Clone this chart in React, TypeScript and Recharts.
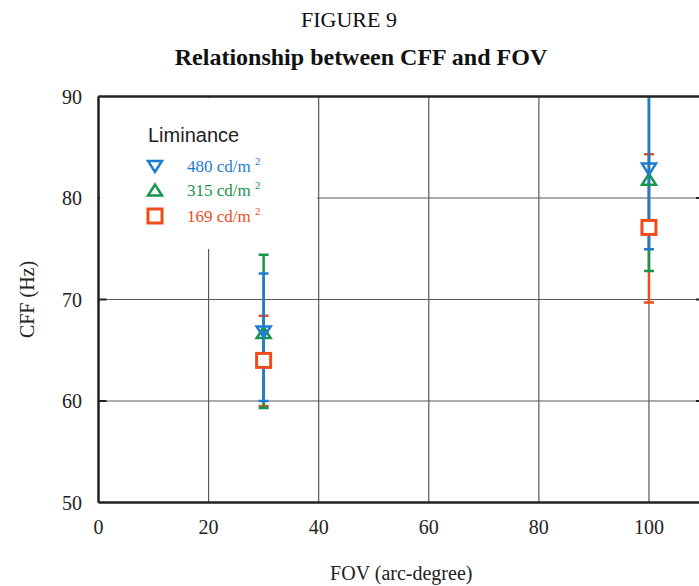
import { ScatterChart, Scatter, XAxis, YAxis, CartesianGrid, ErrorBar, Legend, Label } from "recharts";

const fov = [30, 100];
const seriesNames = ["480 cd/m", "315 cd/m", "169 cd/m"];
const seriesColors = ["#1f7bd1", "#16954c", "#ef4c1c"];

const cff480 = [66.85, 82.9];
const cff480Low = [6.85, 7.95];
const cff480High = [5.7, 8.0];

const cff315 = [66.7, 81.8];
const cff315Low = [7.4, 9.0];
const cff315High = [7.7, 9.0];

const cff169 = [64.0, 77.1];
const cff169Low = [4.5, 7.4];
const cff169High = [4.4, 7.2];

const xTicks = [0, 20, 40, 60, 80, 100];
const xMajorInner = [20, 40, 60, 80, 100];
const xMinorInner = [10, 30, 50, 70, 90];
const yTicks = [50, 60, 70, 80, 90];
const yInner = [60, 70, 80];

const rows = (ys: number[], lo: number[], hi: number[]) =>
  fov.map((x, i) => ({ fov: x, cff: ys[i], err: [lo[i], hi[i]] }));

const d480 = rows(cff480, cff480Low, cff480High);
const d315 = rows(cff315, cff315Low, cff315High);
const d169 = rows(cff169, cff169Low, cff169High);

const serif = '"Liberation Serif", "Times New Roman", serif';
const axisStroke = { stroke: "#222", strokeWidth: 2.5 };

// plot area of the chart below, used to clip error bars that run past 90 Hz
const plot = { left: 98.5, top: 96.5, right: 704, bottom: 502.5 };

function DownTri({ cx, cy, color }: any) {
  return (
    <path d={`M${cx - 7},${cy - 5}L${cx + 7},${cy - 5}L${cx},${cy + 6}Z`} fill="none" stroke={color} strokeWidth={2.5} />
  );
}
function UpTri({ cx, cy, color }: any) {
  return (
    <path d={`M${cx - 7},${cy + 5}L${cx + 7},${cy + 5}L${cx},${cy - 6}Z`} fill="none" stroke={color} strokeWidth={2.5} />
  );
}
function Sq({ cx, cy, color }: any) {
  return <rect x={cx - 7} y={cy - 7} width={14} height={14} fill="#fff" stroke={color} strokeWidth={3} />;
}
const markers = [DownTri, UpTri, Sq];

const noTick = () => <g />;

function LegendBox() {
  const rowY = [68, 92.5, 118];
  return (
    <div style={{ position: "relative", width: 217, height: 151, background: "#fff" }}>
      <div
        style={{
          position: "absolute",
          left: 48,
          top: 27,
          font: '20px/20px "Liberation Sans", Arial, sans-serif',
          color: "#222",
          whiteSpace: "nowrap",
        }}
      >
        Liminance
      </div>
      <svg width={217} height={151} style={{ position: "absolute", left: 0, top: 0 }}>
        {markers.map((M, i) => (
          <M key={i} cx={55} cy={rowY[i]} color={seriesColors[i]} />
        ))}
      </svg>
      {seriesNames.map((name, i) => (
        <div
          key={name}
          style={{
            position: "absolute",
            left: 87,
            top: rowY[i] - 8.2,
            font: `17px/17px ${serif}`,
            color: seriesColors[i],
            whiteSpace: "nowrap",
          }}
        >
          {name} <span style={{ fontSize: 11, position: "relative", top: -7 }}>2</span>
        </div>
      ))}
    </div>
  );
}

export default function App() {
  return (
    <div style={{ position: "absolute", left: 0, top: 0, width: 699, height: 586, overflow: "hidden", background: "#fff" }}>
      <style>{".recharts-errorBars { clip-path: url(#plotClip); }"}</style>
      <svg width={699} height={80} style={{ position: "absolute", left: 0, top: 0 }}>
        <defs>
          <clipPath id="plotClip" clipPathUnits="userSpaceOnUse">
            <rect x={plot.left} y={plot.top} width={plot.right - plot.left} height={plot.bottom - plot.top} />
          </clipPath>
        </defs>
        <text x={349} y={27} textAnchor="middle" fontFamily={serif} fontSize={22} fill="#111">
          FIGURE 9
        </text>
        <text x={361} y={65} textAnchor="middle" fontFamily={serif} fontSize={24} fontWeight="bold" fill="#111">
          Relationship between CFF and FOV
        </text>
      </svg>
      <ScatterChart width={720} height={586} margin={{ top: plot.top, right: 720 - plot.right, bottom: 0, left: 0 }}>
        <CartesianGrid stroke="#5a5a5a" strokeWidth={1.2} />
        <XAxis
          dataKey="fov"
          type="number"
          domain={[0, 110]}
          allowDataOverflow
          ticks={xTicks}
          height={586 - plot.bottom}
          tickLine={false}
          tickSize={0}
          tickMargin={17}
          axisLine={axisStroke}
          tick={{ fontFamily: serif, fontSize: 20, fill: "#222" }}
        >
          <Label value="FOV (arc-degree)" position="insideBottom" offset={6} style={{ fontFamily: serif, fontSize: 20, fill: "#222" }} />
        </XAxis>
        <XAxis xAxisId="bMaj" type="number" domain={[0, 110]} allowDataOverflow ticks={xMajorInner} mirror axisLine={false} tickSize={8} tickLine={{ stroke: "#222", strokeWidth: 2 }} tick={noTick} />
        <XAxis xAxisId="bMin" type="number" domain={[0, 110]} allowDataOverflow ticks={xMinorInner} mirror axisLine={false} tickSize={5} tickLine={{ stroke: "#333", strokeWidth: 1 }} tick={noTick} />
        <XAxis xAxisId="tMaj" orientation="top" type="number" domain={[0, 110]} allowDataOverflow ticks={xMajorInner} mirror axisLine={axisStroke} tickSize={8} tickLine={{ stroke: "#222", strokeWidth: 2 }} tick={noTick} />
        <XAxis xAxisId="tMin" orientation="top" type="number" domain={[0, 110]} allowDataOverflow ticks={xMinorInner} mirror axisLine={false} tickSize={5} tickLine={{ stroke: "#333", strokeWidth: 1 }} tick={noTick} />
        <YAxis
          dataKey="cff"
          type="number"
          domain={[50, 90]}
          allowDataOverflow
          ticks={yTicks}
          width={plot.left}
          tickLine={false}
          tickSize={0}
          tickMargin={16.5}
          axisLine={axisStroke}
          tick={{ fontFamily: serif, fontSize: 20, fill: "#222" }}
        >
          <Label value="CFF (Hz)" angle={-90} position="insideLeft" offset={27} style={{ fontFamily: serif, fontSize: 20, fill: "#222", textAnchor: "middle" }} />
        </YAxis>
        <YAxis yAxisId="lMaj" type="number" domain={[50, 90]} allowDataOverflow ticks={yInner} mirror axisLine={false} tickSize={8} tickLine={{ stroke: "#222", strokeWidth: 2 }} tick={noTick} />
        <YAxis yAxisId="rMaj" orientation="right" type="number" domain={[50, 90]} allowDataOverflow ticks={yInner} mirror axisLine={axisStroke} tickSize={8} tickLine={{ stroke: "#222", strokeWidth: 2 }} tick={noTick} />

        <Scatter data={d169} isAnimationActive={false} shape={noTick}>
          <ErrorBar dataKey="err" direction="y" width={5} stroke={seriesColors[2]} strokeWidth={2.5} isAnimationActive={false} />
        </Scatter>
        <Scatter data={d315} isAnimationActive={false} shape={noTick}>
          <ErrorBar dataKey="err" direction="y" width={5} stroke={seriesColors[1]} strokeWidth={2.5} isAnimationActive={false} />
        </Scatter>
        <Scatter data={d480} isAnimationActive={false} shape={noTick}>
          <ErrorBar dataKey="err" direction="y" width={5} stroke={seriesColors[0]} strokeWidth={2.5} isAnimationActive={false} />
        </Scatter>

        <Scatter data={d315} isAnimationActive={false} shape={(p: any) => <UpTri cx={p.cx} cy={p.cy} color={seriesColors[1]} />} />
        <Scatter data={d480} isAnimationActive={false} shape={(p: any) => <DownTri cx={p.cx} cy={p.cy} color={seriesColors[0]} />} />
        <Scatter data={d169} isAnimationActive={false} shape={(p: any) => <Sq cx={p.cx} cy={p.cy} color={seriesColors[2]} />} />

        <Legend
          layout="vertical"
          align="center"
          verticalAlign="middle"
          wrapperStyle={{ left: 100, top: 98, width: 217, height: 151 }}
          content={() => <LegendBox />}
        />
      </ScatterChart>
    </div>
  );
}
